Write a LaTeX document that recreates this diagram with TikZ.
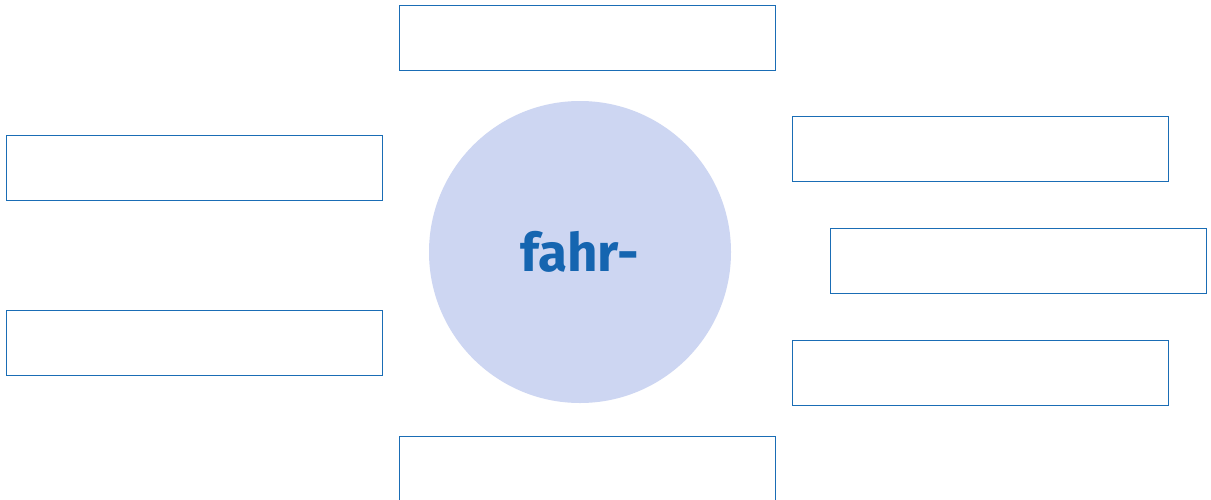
\documentclass[tikz,border=0pt]{standalone}
\usepackage{fontspec}
\setmainfont{Fira Sans}
\definecolor{boxblue}{HTML}{1A6DB5}
\definecolor{textblue}{HTML}{1565B0}
\definecolor{circfill}{HTML}{CDD6F2}
\begin{document}
\begin{tikzpicture}[x=1pt,y=-1pt,
  wbox/.style={draw=boxblue,line width=1.4pt,fill=white,rectangle,inner sep=0pt,minimum width=376pt,minimum height=65pt,anchor=north west},
  centre/.style={circle,fill=circfill,inner sep=0pt,minimum size=302pt,text=textblue,font=\fontsize{53}{58}\selectfont\bfseries}]
\useasboundingbox[fill=white] (0,0) rectangle (1211,499);
\node[centre] (c) at (580,252) {fahr-};
\node[wbox] (top) at (398.5,4.5) {};
\node[wbox] (l1) at (5.5,134.5) {};
\node[wbox] (l2) at (5.5,310) {};
\node[wbox] (r1) at (791.5,116) {};
\node[wbox] (r2) at (829.5,227.5) {};
\node[wbox] (r3) at (791.5,339.5) {};
\node[wbox] (bot) at (398.5,435.5) {};
\end{tikzpicture}
\end{document}
